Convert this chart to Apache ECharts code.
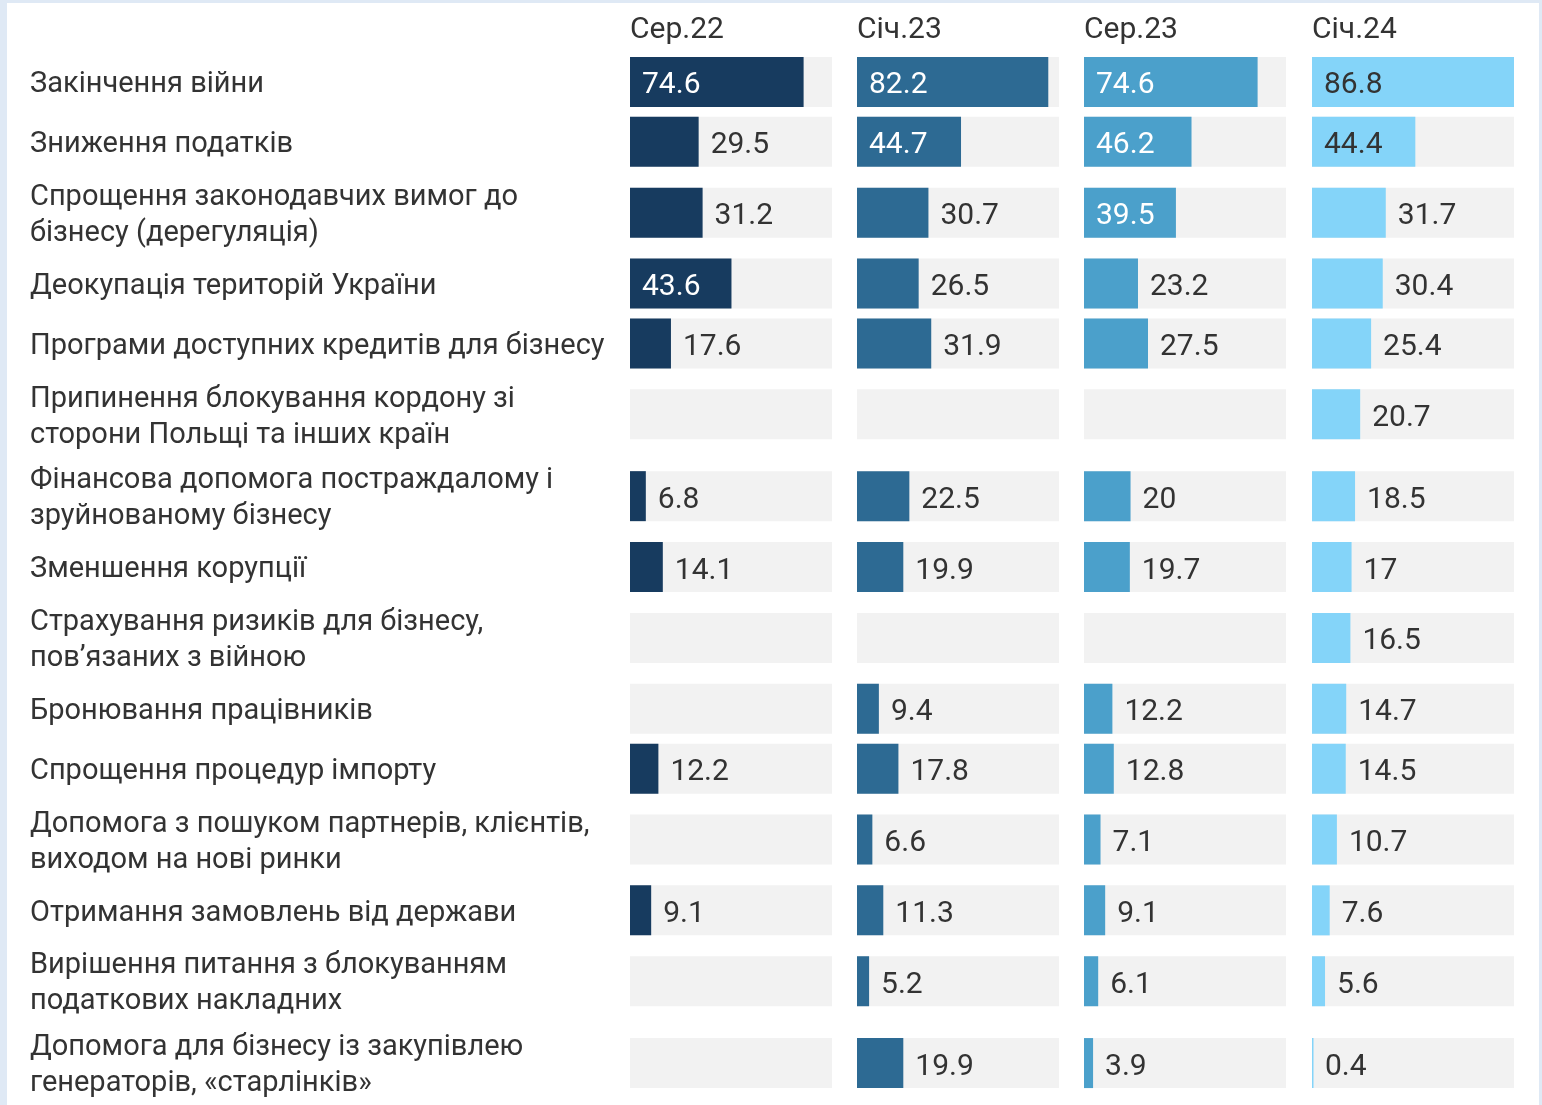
<!DOCTYPE html>
<html>
<head>
<meta charset="utf-8">
<title>Пріоритети бізнесу</title>
<script src="https://cdn.jsdelivr.net/npm/echarts@6/dist/echarts.min.js"></script>
<style>
  html, body { margin: 0; padding: 0; background: #dfe9f5; }
  #chart { position: absolute; left: 7px; top: 3px; width: 1532px; height: 1102px; background: #fff; }
</style>
</head>
<body>
<div id="chart"></div>
<script>
// категорії (рядки) — \n там, де підпис переноситься
const categories = [
  'Закінчення війни',
  'Зниження податків',
  'Спрощення законодавчих вимог до\nбізнесу (дерегуляція)',
  'Деокупація територій України',
  'Програми доступних кредитів для бізнесу',
  'Припинення блокування кордону зі\nсторони Польщі та інших країн',
  'Фінансова допомога постраждалому і\nзруйнованому бізнесу',
  'Зменшення корупції',
  'Страхування ризиків для бізнесу,\nпов’язаних з війною',
  'Бронювання працівників',
  'Спрощення процедур імпорту',
  'Допомога з пошуком партнерів, клієнтів,\nвиходом на нові ринки',
  'Отримання замовлень від держави',
  'Вирішення питання з блокуванням\nподаткових накладних',
  'Допомога для бізнесу із закупівлею\nгенераторів, «старлінків»'
]
const periods = ['Сер.22', 'Січ.23', 'Сер.23', 'Січ.24']
const sep22 = [74.6, 29.5, 31.2, 43.6, 17.6, null, 6.8, 14.1, null, null, 12.2, null, 9.1, null, null]
const sich23 = [82.2, 44.7, 30.7, 26.5, 31.9, null, 22.5, 19.9, null, 9.4, 17.8, 6.6, 11.3, 5.2, 19.9]
const sep23 = [74.6, 46.2, 39.5, 23.2, 27.5, null, 20, 19.7, null, 12.2, 12.8, 7.1, 9.1, 6.1, 3.9]
const sich24 = [86.8, 44.4, 31.7, 30.4, 25.4, 20.7, 18.5, 17, 16.5, 14.7, 14.5, 10.7, 7.6, 5.6, 0.4]

const columns = [sep22, sich23, sep23, sich24]
const barColors = ['#173b5f', '#2d6a93', '#4ba0cb', '#84d4f9']
const insideText = ['#fff', '#fff', '#fff', '#333']

// шкала x однакова для всіх колонок: до максимуму
const xMax = Math.max(...columns.flat().filter(v => v != null))

// висота рядка залежить від кількості рядків підпису
const rowSpan = label => (label.split('\n').length > 1 ? 82 : 60)
const centers = []
let acc = 0
categories.forEach(c => {
  const s = rowSpan(c)
  centers.push(acc + s / 2)
  acc += s
})
const yMax = acc
const LABEL_SHIFT = 3 // підписи зліва трохи нижче центру рядка

const FONT = 'Roboto, "Noto Sans", sans-serif'
const BAR_H = 50
const gridLeft = [623, 850, 1077, 1305]

const makeRender = (values, color, txtColor) => (params, api) => {
  const i = params.dataIndex
  const v = values[i]
  const c = centers[i]
  const p0 = api.coord([0, c])
  const pMax = api.coord([xMax, c])
  const children = [
    {
      type: 'rect',
      shape: { x: p0[0], y: p0[1] - BAR_H / 2, width: pMax[0] - p0[0], height: BAR_H },
      style: { fill: '#f2f2f2' },
    },
  ]
  if (v != null) {
    const p1 = api.coord([v, c])
    children.push({
      type: 'rect',
      shape: { x: p0[0], y: p0[1] - BAR_H / 2, width: Math.max(p1[0] - p0[0], 1.5), height: BAR_H },
      style: { fill: color },
    })
    const inside = v >= 35
    children.push({
      type: 'text',
      x: inside ? p0[0] + 12 : p1[0] + 12,
      y: p0[1] + 4,
      style: {
        text: String(v),
        fill: inside ? txtColor : '#333',
        fontSize: 30,
        fontFamily: FONT,
        verticalAlign: 'middle',
        align: 'left',
      },
    })
  }
  return { type: 'group', children }
}

let option = {
  animation: false,
  title: periods.map((p, k) => ({
    text: p,
    left: gridLeft[k],
    top: 12,
    padding: 0,
    textStyle: { fontSize: 30, fontWeight: 'normal', color: '#333', fontFamily: FONT },
  })),
  grid: gridLeft.map(l => ({ left: l, top: 49, width: 202, height: 1052 })),
  xAxis: gridLeft.map((l, k) => ({
    type: 'value',
    gridIndex: k,
    min: 0,
    max: xMax,
    show: false,
  })),
  yAxis: gridLeft.map((l, k) => ({
    type: 'value',
    gridIndex: k,
    min: 0,
    max: yMax,
    inverse: true,
    axisLine: { show: false },
    axisTick: { show: false },
    splitLine: { show: false },
    axisLabel: {
      show: k === 0,
      customValues: centers.map(c => c + LABEL_SHIFT),
      margin: 600,
      align: 'left',
      fontSize: 29,
      lineHeight: 36,
      color: '#333',
      fontFamily: FONT,
      formatter: val => {
        const idx = centers.indexOf(Math.round(val - LABEL_SHIFT))
        return idx >= 0 ? categories[idx] : ''
      },
    },
  })),
  series: columns.map((vals, k) => ({
    type: 'custom',
    xAxisIndex: k,
    yAxisIndex: k,
    renderItem: makeRender(vals, barColors[k], insideText[k]),
    data: vals.map((v, i) => [v == null ? '-' : v, centers[i]]),
  })),
}

let myChart = echarts.init(document.getElementById('chart'))
myChart.setOption(option)
</script>
</body>
</html>
